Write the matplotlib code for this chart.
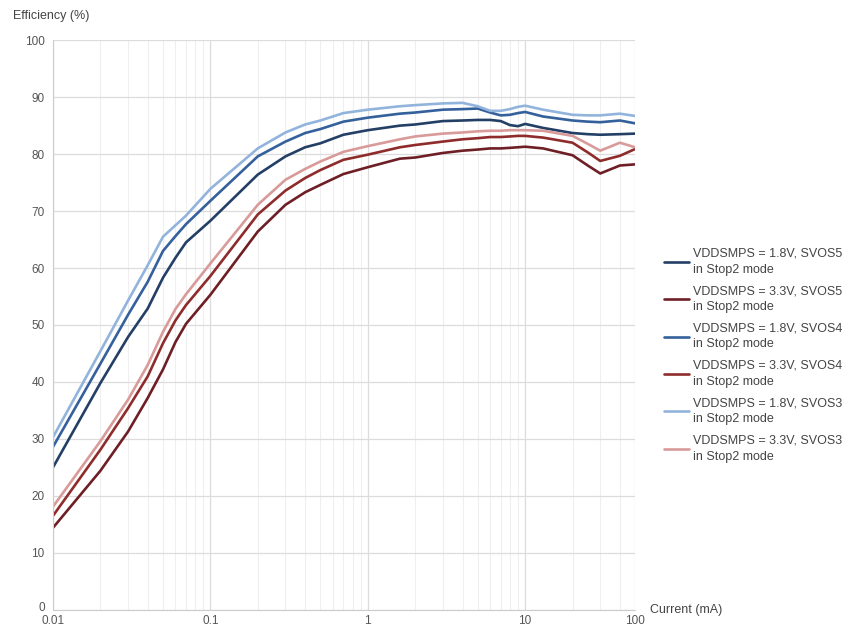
import matplotlib
matplotlib.use("Agg")
import matplotlib.pyplot as plt
import matplotlib.transforms as mtransforms
from matplotlib.ticker import FixedLocator, NullFormatter

plt.rcParams['font.family'] = ['Liberation Sans', 'DejaVu Sans']

current = [0.01, 0.02, 0.03, 0.04, 0.05, 0.06, 0.07, 0.1, 0.2, 0.3, 0.4, 0.5, 0.7, 1,
           1.6, 2, 3, 4, 5, 6, 7, 8, 9, 10, 13, 20, 25, 30, 40, 50]

eff_18_svos5 = [25.0, 39.8, 47.9, 52.9, 58.3, 61.8, 64.5, 68.3, 76.4, 79.6, 81.2, 81.9, 83.4, 84.2,
                85.0, 85.2, 85.8, 85.9, 86.0, 86.0, 85.8, 85.1, 84.9, 85.3, 84.6, 83.7, 83.5, 83.4, 83.5, 83.6]
eff_33_svos5 = [14.4, 24.4, 31.3, 37.2, 42.2, 47.0, 50.2, 55.3, 66.4, 71.1, 73.3, 74.6, 76.5, 77.7,
                79.2, 79.4, 80.2, 80.6, 80.8, 81.0, 81.0, 81.1, 81.2, 81.3, 81.0, 79.8, 78.0, 76.6, 78.0, 78.2]
eff_18_svos4 = [28.6, 43.2, 51.8, 57.6, 63.0, 65.6, 67.7, 71.8, 79.6, 82.2, 83.7, 84.4, 85.7, 86.4,
                87.1, 87.3, 87.8, 87.9, 88.0, 87.3, 86.8, 86.9, 87.2, 87.4, 86.6, 85.9, 85.7, 85.6, 85.9, 85.4]
eff_33_svos4 = [16.5, 28.1, 35.4, 41.0, 46.8, 50.8, 53.5, 58.6, 69.4, 73.6, 75.8, 77.2, 79.0, 79.9,
                81.2, 81.6, 82.2, 82.6, 82.8, 83.0, 83.0, 83.1, 83.2, 83.2, 82.9, 82.0, 80.3, 78.8, 79.7, 80.9]
eff_18_svos3 = [30.3, 45.4, 54.3, 60.5, 65.5, 67.5, 69.2, 73.9, 81.0, 83.8, 85.2, 85.9, 87.2, 87.8,
                88.4, 88.6, 88.9, 89.0, 88.4, 87.6, 87.6, 87.9, 88.3, 88.5, 87.8, 86.9, 86.8, 86.8, 87.1, 86.7]
eff_33_svos3 = [18.1, 29.6, 36.9, 43.0, 48.8, 52.8, 55.4, 60.8, 71.1, 75.5, 77.4, 78.7, 80.4, 81.4,
                82.6, 83.1, 83.6, 83.8, 84.0, 84.1, 84.1, 84.2, 84.2, 84.2, 84.1, 83.2, 81.8, 80.6, 82.0, 81.2]

series = [
    ("VDDSMPS = 1.8V, SVOS5\nin Stop2 mode", eff_18_svos5, "#243f66"),
    ("VDDSMPS = 3.3V, SVOS5\nin Stop2 mode", eff_33_svos5, "#6e1f25"),
    ("VDDSMPS = 1.8V, SVOS4\nin Stop2 mode", eff_18_svos4, "#34609b"),
    ("VDDSMPS = 3.3V, SVOS4\nin Stop2 mode", eff_33_svos4, "#8e2b2b"),
    ("VDDSMPS = 1.8V, SVOS3\nin Stop2 mode", eff_18_svos3, "#92b4dc"),
    ("VDDSMPS = 3.3V, SVOS3\nin Stop2 mode", eff_33_svos3, "#d99a9a"),
]

x_ticks = [0.01, 0.1, 1, 10, 50]
x_tick_labels = ["0.01", "0.1", "1", "10", "100"]

fig = plt.figure(figsize=(8.48, 6.28), dpi=100)
ax = fig.add_axes([0.0625, 0.029, 0.6865, 0.907])

for label, vals, col in series:
    ax.plot(current, vals, color=col, lw=1.9, label=label,
            solid_joinstyle='round', solid_capstyle='round')

ax.set_xscale('log')
ax.set_xlim(0.01, 50)
ax.set_ylim(0, 100)
ax.set_yticks(range(0, 101, 10))
ax.xaxis.set_major_locator(FixedLocator(x_ticks))
ax.set_xticklabels(x_tick_labels)
minor = [m * 10.0 ** e for e in range(-2, 2) for m in range(2, 10)]
ax.xaxis.set_minor_locator(FixedLocator([v for v in minor if v < 50]))
ax.xaxis.set_minor_formatter(NullFormatter())

ax.grid(True, which='major', color='#dcdcdc', lw=0.9)
ax.grid(True, which='minor', axis='x', color='#efefef', lw=0.8)
ax.set_axisbelow(True)
for s in ['top', 'right']:
    ax.spines[s].set_visible(False)
for s in ['left', 'bottom']:
    ax.spines[s].set_color('#cccccc')
ax.tick_params(which='both', length=0, labelsize=8.5, colors='#555555')
ax.tick_params(axis='y', pad=6)
ax.tick_params(axis='x', pad=4)

# nudge the "0" label up a little so it clears "0.01"
lbl0 = ax.get_yticklabels()[0]
lbl0.set_transform(lbl0.get_transform() +
                   mtransforms.ScaledTranslation(0, 3 / 100, fig.dpi_scale_trans))

fig.text(13 / 848, 1 - 16 / 628, "Efficiency (%)", fontsize=9, color='#444444', va='center')
fig.text(650 / 848, 1 - 610 / 628, "Current (mA)", fontsize=9, color='#444444', va='center')

leg = ax.legend(loc='center left', bbox_to_anchor=(1.03, 0.447), frameon=False,
                fontsize=9, handlelength=2.0, labelspacing=0.75, handletextpad=0.3,
                labelcolor='#444444')
for t in leg.get_texts():
    t.set_linespacing(1.45)

fig.savefig("out.png", dpi=100)
